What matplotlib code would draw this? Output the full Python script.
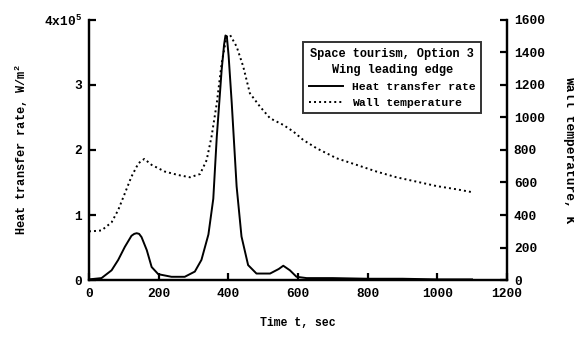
import numpy as np
import matplotlib.pyplot as plt

# heat transfer rate (x1e5 W/m^2) vs time (s)
t_q = [0, 36, 65, 84, 103, 122, 130, 137, 144, 151, 166, 180, 199, 237, 275, 304,
       323, 343, 357, 367, 381, 388, 392, 396, 401, 410, 424, 438, 457, 481, 520,
       545, 558, 577, 596, 625, 700, 800, 900, 1000, 1100]
q = [0.01, 0.03, 0.15, 0.31, 0.51, 0.68, 0.71, 0.72, 0.71, 0.66, 0.46, 0.20, 0.09,
     0.05, 0.05, 0.13, 0.31, 0.70, 1.25, 2.20, 3.23, 3.62, 3.76, 3.74, 3.45, 2.72,
     1.44, 0.67, 0.23, 0.10, 0.10, 0.17, 0.22, 0.15, 0.05, 0.03, 0.03, 0.02, 0.02,
     0.01, 0.01]

# wall temperature (K) vs time (s)
t_w = [0, 8, 36, 65, 84, 103, 122, 142, 159, 180, 218, 256, 290, 319, 338, 352,
       367, 381, 395, 405, 424, 443, 462, 491, 520, 558, 587, 615, 654, 711, 769,
       826, 883, 941, 998, 1056, 1099]
T_w = [300, 300, 305, 355, 431, 533, 636, 718, 745, 708, 667, 646, 632, 652, 738,
       882, 1087, 1333, 1497, 1508, 1436, 1313, 1149, 1067, 995, 954, 913, 862, 810,
       749, 708, 667, 632, 605, 578, 558, 541]

plt.rcParams['font.family'] = ['Liberation Mono', 'DejaVu Sans Mono']
plt.rcParams['mathtext.fontset'] = 'custom'
plt.rcParams['mathtext.rm'] = 'Liberation Mono:bold'

fig = plt.figure(figsize=(5.74, 3.37), dpi=100)
ax = fig.add_axes([0.155, 0.169, 0.728, 0.772])
ax2 = ax.twinx()

l1, = ax.plot(t_q, q, color='black', lw=1.4)
l2, = ax2.plot(t_w, T_w, color='black', lw=1.4, linestyle=(0, (1.0, 1.6)))

ax.set_xlim(0, 1200)
ax.set_ylim(0, 4)
ax2.set_ylim(0, 1600)
ax.set_xticks([0, 200, 400, 600, 800, 1000, 1200])
ax.set_yticks([0, 1, 2, 3, 4])
ax.set_yticklabels(['0', '1', '2', '3', '4x10$^5$'])
ax2.set_yticks(np.arange(0, 1601, 200))

for a in (ax, ax2):
    a.spines['top'].set_visible(False)
    for s in a.spines.values():
        s.set_linewidth(1.6)
    a.tick_params(direction='in', length=5, width=1.6, labelsize=9.3)
    for lab in a.get_xticklabels() + a.get_yticklabels():
        lab.set_fontweight('bold')
ax.tick_params(axis='x', pad=6)
ax.tick_params(axis='y', pad=5)
ax2.tick_params(axis='y', pad=5)

ax.set_xlabel('Time t, sec', fontsize=8.3, fontweight='bold', labelpad=12)
ax.set_ylabel('Heat transfer rate, W/m$^2$', fontsize=8.6, fontweight='bold', labelpad=10)
ax2.set_ylabel('Wall temperature, K', fontsize=9.3, fontweight='bold', rotation=-90, labelpad=22)

leg = ax.legend([l1, l2], ['Heat transfer rate', 'Wall temperature'],
                title='Space tourism, Option 3\nWing leading edge',
                loc='upper left', bbox_to_anchor=(0.512, 0.915), fontsize=8.2,
                title_fontsize=8.6, frameon=True, fancybox=False, handlelength=3,
                borderpad=0.5, labelspacing=0.5, handletextpad=0.8, borderaxespad=0,
                alignment='center')
leg.get_frame().set_edgecolor('black')
leg.get_frame().set_linewidth(1.4)
leg.get_title().set_fontweight('bold')
leg.get_title().set_linespacing(1.5)
leg.get_title().set_multialignment('center')
for txt in leg.get_texts():
    txt.set_fontweight('bold')

fig.savefig('out.png', dpi=100)
